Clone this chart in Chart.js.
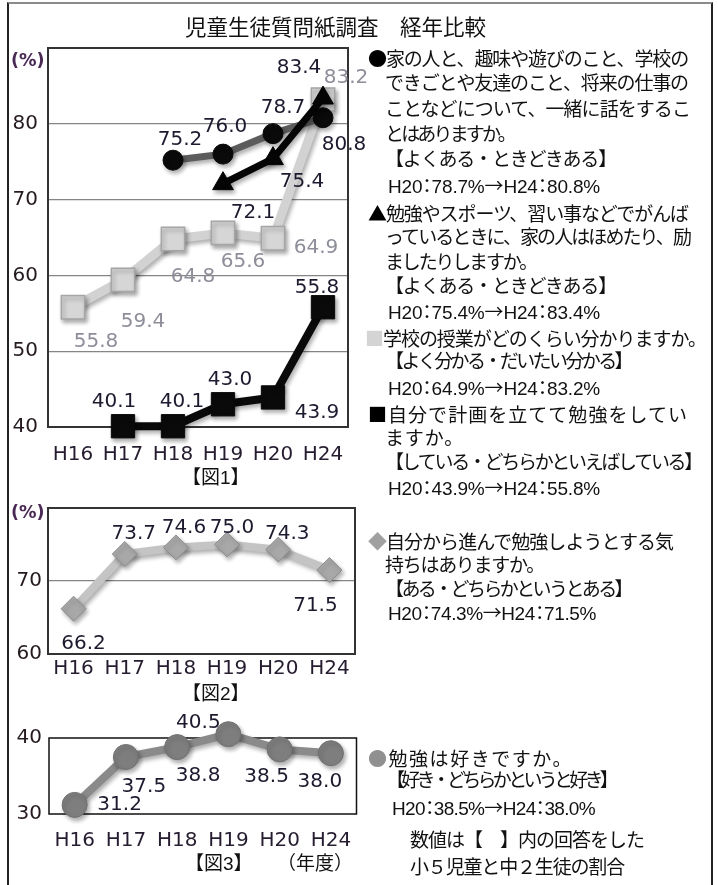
<!DOCTYPE html>
<html><head><meta charset="utf-8">
<script src="https://cdn.jsdelivr.net/npm/chart.js@4.4.0/dist/chart.umd.min.js"></script>
<style>
body{margin:0;background:#fff;}
#page{position:relative;width:718px;height:885px;overflow:hidden;background:#fff;}
.frame{position:absolute;left:7px;top:2px;width:702px;height:900px;border-left:2px solid #222;border-right:2px solid #222;border-top:2px solid #8a8a8a;}
canvas{position:absolute;left:0;}
.t{position:absolute;white-space:nowrap;font-family:"Liberation Sans","Noto Sans CJK JP",sans-serif;font-size:19px;line-height:20px;height:20px;color:#111;letter-spacing:0;}
.n{font-feature-settings:"palt";}
.cj{font-family:"Noto Sans CJK JP";}
.pc{position:absolute;font-family:"DejaVu Sans";font-weight:bold;font-size:17.5px;line-height:20px;color:#4a2a55;left:11px;}
</style>
</head><body>
<div id="page">
<div class="frame"></div>
<canvas id="c1" width="370" height="500" style="top:0px"></canvas>
<canvas id="c2" width="370" height="200" style="top:490px"></canvas>
<canvas id="c3" width="370" height="185" style="top:700px"></canvas>
<div id="texts"></div>
</div>
<script>
// ---- data ----
const categories = ['H16','H17','H18','H19','H20','H24'];
const talkWithFamily   = [null, null, 75.2, 76.0, 78.7, 80.8];
const praisedByFamily  = [null, null, null, 72.1, 75.4, 83.4];
const understandLessons= [55.8, 59.4, 64.8, 65.6, 64.9, 83.2];
const planStudy        = [null, 40.1, 40.1, 43.0, 43.9, 55.8];
const motivation       = [66.2, 73.7, 74.6, 75.0, 74.3, 71.5];
const likeStudy        = [31.2, 37.5, 38.8, 40.5, 38.5, 38.0];
const yTicks1 = [40, 50, 60, 70, 80];
const yTicks2 = [60, 70];
const yTicks3 = [30, 40];

// ---- plugins ----
const shadowPlugin = {
  id:'shadowPlugin',
  beforeDatasetDraw(chart){const c=chart.ctx;c.save();c.shadowColor='rgba(0,0,0,0.32)';c.shadowBlur=4;c.shadowOffsetX=2;c.shadowOffsetY=3;},
  afterDatasetDraw(chart){chart.ctx.restore();}
};
const framePlugin = {
  id:'framePlugin',
  beforeDatasetsDraw(chart,args,opts){
    const a=chart.chartArea,c=chart.ctx;c.save();c.strokeStyle=opts.color||'#333';c.lineWidth=opts.width||2;
    c.strokeRect(a.left,a.top,a.right-a.left,a.bottom-a.top);c.restore();
  }
};
const labelPlugin = {
  id:'labelPlugin',
  afterDatasetsDraw(chart){
    const c=chart.ctx;
    chart.data.datasets.forEach((ds,i)=>{
      if(!ds.labelOffsets) return;
      const meta=chart.getDatasetMeta(i);
      c.save();c.font='20px "DejaVu Sans"';c.fillStyle=ds.labelColor;c.textAlign='center';c.textBaseline='middle';
      meta.data.forEach((pt,j)=>{
        const v=ds.data[j]; if(v==null) return;
        const o=ds.labelOffsets[j];
        c.fillText(v.toFixed(1),pt.x+o[0],pt.y+o[1]);
      });
      c.restore();
    });
  }
};

function scales(min,max,tickArr,yPad,xPad,yW,xH,showGrid){
  return {
    x:{offset:true,grid:{display:false,drawTicks:false},border:{display:false},
       ticks:{font:{family:'DejaVu Sans',size:20},color:'#261c30',padding:xPad,maxRotation:0,autoSkip:false},
       afterFit(s){s.height=xH;}},
    y:{min:min,max:max,grid:{display:showGrid,drawTicks:false,color:'#858585',lineWidth:1.3},border:{display:false},
       afterBuildTicks(s){s.ticks=tickArr.map(v=>({value:v}));},
       ticks:{font:{family:'DejaVu Sans',size:20},color:'#241a20',padding:yPad},
       afterFit(s){s.width=yW;}}
  };
}
const common = {responsive:false,animation:false,events:[],
  plugins:{legend:{display:false},tooltip:{enabled:false}}};

const DARK='#1c1a2e', LIGHT='#8e8e9a';

new Chart(document.getElementById('c1'),{
  type:'line',
  data:{labels:categories,datasets:[
    {data:praisedByFamily,borderColor:'#050505',borderWidth:7,pointStyle:'triangle',pointRadius:12,
     pointBackgroundColor:'#050505',pointBorderColor:'#050505',pointBorderWidth:1,clip:false,spanGaps:false,
     labelColor:DARK,labelOffsets:[null,null,null,[30,29],[29,23],[-24,-30]]},
    {data:talkWithFamily,borderColor:'#5c5c5c',borderWidth:7,pointStyle:'circle',pointRadius:10,
     pointBackgroundColor:'#0a0a0a',pointBorderColor:'#0a0a0a',pointBorderWidth:1,clip:false,
     labelColor:DARK,labelOffsets:[null,null,[7,-20],[2,-27],[10,-26],[21,27]]},
    {data:planStudy,borderColor:'#0a0a0a',borderWidth:8,pointStyle:'rect',pointRadius:16.5,
     pointBackgroundColor:'#0a0a0a',pointBorderColor:'#0a0a0a',pointBorderWidth:1,clip:false,
     labelColor:DARK,labelOffsets:[null,[-9,-24],[9,-24],[7,-24],[44,15],[-6,-19]]},
    {data:understandLessons,borderColor:'#d2d2d2',borderWidth:9,pointStyle:'rect',pointRadius:16.5,
     pointBackgroundColor:'#d6d6d6',pointBorderColor:'#a6a6a6',pointBorderWidth:1.5,clip:false,
     labelColor:LIGHT,labelOffsets:[[23,35],[20,42],[20,38],[20,29],[43,10],[23,-22]]}
  ]},
  options:Object.assign({},common,{
    layout:{padding:{left:0,top:48,right:22,bottom:23}},
    scales:scales(40,90,yTicks1,10,16,48,50,true),
    plugins:Object.assign({},common.plugins,{framePlugin:{color:'#333',width:2}})
  }),
  plugins:[shadowPlugin,framePlugin,labelPlugin]
});

new Chart(document.getElementById('c2'),{
  type:'line',
  data:{labels:categories,datasets:[
    {data:motivation,borderColor:'#c4c4c4',borderWidth:8,pointStyle:'rectRot',pointRadius:12.5,
     pointBackgroundColor:'#a8a8a8',pointBorderColor:'#8e8e8e',pointBorderWidth:1,clip:false,
     labelColor:DARK,labelOffsets:[[10,35],[9,-20],[8,-20],[5,-17],[9,-16],[-14,36]]}
  ]},
  options:Object.assign({},common,{
    layout:{padding:{left:0,top:10,right:15,bottom:0}},
    scales:scales(60,80,yTicks2,6,3,48,36,true),
    plugins:Object.assign({},common.plugins,{framePlugin:{color:'#333',width:2}})
  }),
  plugins:[shadowPlugin,framePlugin,labelPlugin]
});

new Chart(document.getElementById('c3'),{
  type:'line',
  data:{labels:categories,datasets:[
    {data:likeStudy,borderColor:'#8a8a8a',borderWidth:8,pointStyle:'circle',pointRadius:12.5,
     pointBackgroundColor:'#7e7e7e',pointBorderColor:'#707070',pointBorderWidth:1,clip:false,
     labelColor:DARK,labelOffsets:[[45,0],[18,30],[21,29],[-30,-11],[-13,27],[-11,29]]}
  ]},
  options:Object.assign({},common,{
    layout:{padding:{left:0,top:38,right:13,bottom:0}},
    scales:scales(30,40,yTicks3,7,15,49,71,false),
    plugins:Object.assign({},common.plugins,{framePlugin:{color:'#111',width:1.5}})
  }),
  plugins:[shadowPlugin,framePlugin,labelPlugin]
});

// ---- texts: [html, left, centerY, rightEdge|null, kind] ----
const B = (ch,col)=>'<span class="cj" style="color:'+col+'">'+ch+'</span>';
const AR = '<span class="cj">→</span>';
const lines = [
  ['児童生徒質問紙調査　経年比較',185,28,null,'title'],
  [B('●','#000')+'家の人と、趣味や遊びのこと、学校の',368,57,688],
  ['できごとや友達のこと、将来の仕事の',385,83,688],
  ['ことなどについて、一緒に話をするこ',385,109,690],
  ['とはありますか。',385,134,514],
  ['【よくある・ときどきある】',385,159,616],
  ['H20：78.7%'+AR+'H24：80.8%',388,184,600,'n'],
  [B('▲','#000')+'勉強やスポーツ、習い事などでがんば',368,212,688],
  ['っているときに、家の人はほめたり、励',385,237,690],
  ['ましたりしますか。',385,262,536],
  ['【よくある・ときどきある】',385,286,616],
  ['H20：75.4%'+AR+'H24：83.4%',388,310,600,'n'],
  [B('■','#d4d4d4')+'学校の授業がどのくらい分かりますか。',365,337,706],
  ['【よく分かる・だいたい分かる】',385,361,631],
  ['H20：64.9%'+AR+'H24：83.2%',388,386,600,'n'],
  [B('■','#000')+'自分で計画を立てて勉強をしてい',368,413,688],
  ['ますか。',385,438,464],
  ['【している・どちらかといえばしている】',385,462,701],
  ['H20：43.9%'+AR+'H24：55.8%',388,486,600,'n'],
  [B('◆','#a0a0a0')+'自分から進んで勉強しようとする気',368,540,673],
  ['持ちはありますか。',385,565,544],
  ['【ある・どちらかというとある】',385,589,631],
  ['H20：74.3%'+AR+'H24：71.5%',388,611,596,'n'],
  [B('●','#909090')+'勉強は好きですか。',368,757,573],
  ['【好き・どちらかというと好き】',386,780,615],
  ['H20：38.5%'+AR+'H24：38.0%',392,806,595,'n'],
  ['数値は【　】内の回答をした',410,840,644],
  ['小５児童と中２生徒の割合',410,867,624],
  ['【図1】',182,477,null],
  ['【図2】',182,693,null],
  ['【図3】',185,863,null],
  ['（年度）',277,863,null]
];
const box=document.getElementById('texts');
lines.forEach(l=>{
  const d=document.createElement('div');
  d.className='t'+(l[4]==='n'?' n':'');
  d.innerHTML=l[0];
  d.style.left=l[1]+'px';
  d.style.top=(l[2]-9)+'px';
  if(l[4]==='title'){d.style.fontSize='21.5px';d.style.fontFamily='"Noto Sans CJK JP"';d.style.top=(l[2]-12)+'px';}
  box.appendChild(d);
  if(l[3]!=null){
    const w=d.getBoundingClientRect().width;
    const n=Array.from(d.textContent).length;
    d.style.letterSpacing=((l[3]-l[1]-w)/n)+'px';
  }
});
[['(%)',60],['(%)',512]].forEach(p=>{
  const d=document.createElement('div');d.className='pc';d.textContent=p[0];d.style.top=(p[1]-10)+'px';box.appendChild(d);
});
</script>
</body></html>
